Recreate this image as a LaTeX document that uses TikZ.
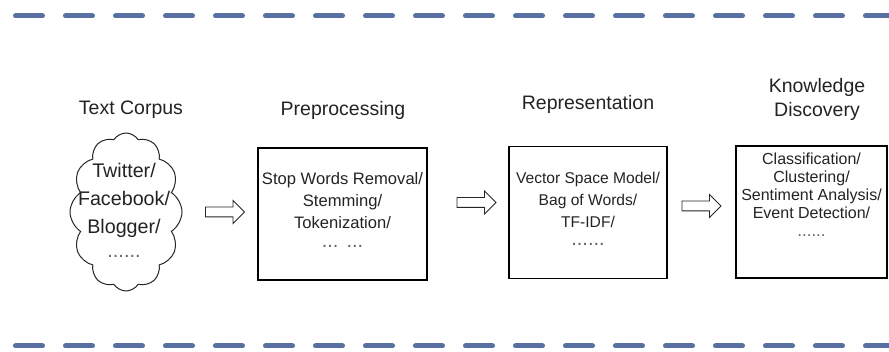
\documentclass[tikz,border=0pt]{standalone}
\usepackage{fontspec}
\setmainfont{Liberation Sans}
\usetikzlibrary{shapes.symbols,shapes.arrows}
\definecolor{dashblue}{RGB}{88,112,162}
\definecolor{ink}{RGB}{35,35,35}
\begin{document}
\begin{tikzpicture}[x=1pt,y=-1pt,
  title/.style={font=\fontsize{19.5}{24}\selectfont, text=ink, align=center, inner sep=0, anchor=base},
  stagebox/.style={draw=black, line width=1.4pt, inner sep=0, minimum width=#1, minimum height=132pt},
  boxtext/.style={font=\fontsize{#1}{22}\selectfont, text=ink, align=center, inner sep=0},
  dotline/.style={font=\fontsize{#1}{#1}\selectfont, text=ink!70, inner sep=0},
  flowarrow/.style={single arrow, draw=black!85, line width=0.9pt, minimum height=39pt, inner sep=0pt, inner ysep=4.5pt, single arrow head extend=6.5pt, single arrow head indent=0pt},
  sepline/.style={dashblue, line width=5pt, line cap=round, dash pattern=on 27pt off 23pt}]
\useasboundingbox (0,0) rectangle (889,352);
% separators
\coordinate (t0) at (15.5,16);
\coordinate (t1) at (900,16);
\coordinate (b0) at (15.5,346);
\coordinate (b1) at (900,346);
\draw[sepline] (t0) -- (t1);
\draw[sepline] (b0) -- (b1);
% titles
\node[title] (tc) at (131,115) {Text Corpus};
\node[title] (tp) at (343,116) {Preprocessing};
\node[title] (tr) at (588,110) {Representation};
\node[title] (tk) at (817,93) {Knowledge};
\node[title] (td) at (817,117) {Discovery};
% cloud
\node[cloud, draw=black!85, line width=1pt, cloud puffs=12, cloud puff arc=115, aspect=0.7, minimum width=112pt, minimum height=158pt, inner sep=0] (cloud) at (126,212) {};
\node[font=\fontsize{19.7}{28}\selectfont, text=ink, align=center, inner sep=0] (ct) at (124,200) {Twitter/\\Facebook/\\Blogger/};
\node[dotline=20] (cd) at (124,256) {......};
% boxes
\node[stagebox=169pt] (b1x) at (342.5,214) {};
\node[boxtext=16.6] (b1t) at (342.5,201) {Stop Words Removal/\\Stemming/\\Tokenization/};
\node[dotline=20] (b1d) at (342.5,246) {...\hspace{8pt}...};
\node[stagebox=158pt] (b2x) at (588,212.5) {};
\node[boxtext=15.6] (b2t) at (588,200) {Vector Space Model/\\Bag of Words/\\TF-IDF/};
\node[dotline=20] (b2d) at (588,244) {......};
\node[stagebox=151pt] (b3x) at (811.5,212) {};
\node[boxtext=16, font=\fontsize{16}{18}\selectfont] (b3t) at (811.5,186) {Classification/\\Clustering/\\Sentiment Analysis/\\Event Detection/};
\node[dotline=17] (b3d) at (811.5,236) {......};
% arrows
\node[flowarrow] (a1) at (222.5,212) {};
\node[flowarrow] (a2) at (474,202.5) {};
\node[flowarrow] (a3) at (699,206) {};
\end{tikzpicture}
\end{document}
